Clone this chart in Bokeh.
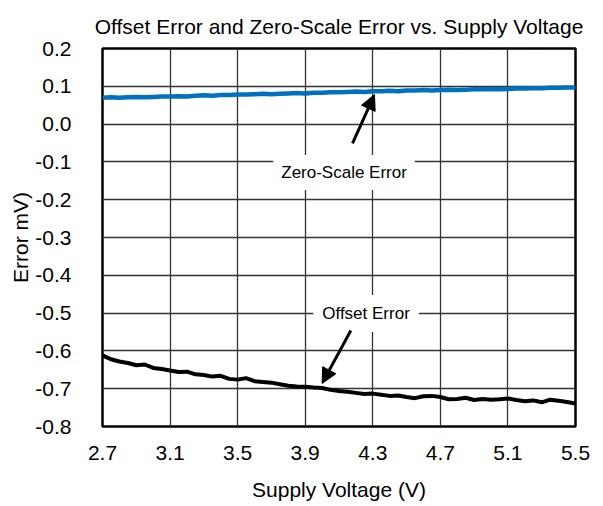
from bokeh.plotting import figure
from bokeh.models import Range1d, FixedTicker, Label, Arrow, NormalHead, Title
from bokeh.embed import file_html
from bokeh.resources import INLINE

# ---- data ----
voltage = [2.70, 2.75, 2.80, 2.85, 2.90, 2.95, 3.00, 3.05, 3.10, 3.15,
           3.20, 3.25, 3.30, 3.35, 3.40, 3.45, 3.50, 3.55, 3.60, 3.65,
           3.70, 3.75, 3.80, 3.85, 3.90, 3.95, 4.00, 4.05, 4.10, 4.15,
           4.20, 4.25, 4.30, 4.35, 4.40, 4.45, 4.50, 4.55, 4.60, 4.65,
           4.70, 4.75, 4.80, 4.85, 4.90, 4.95, 5.00, 5.05, 5.10, 5.15,
           5.20, 5.25, 5.30, 5.35, 5.40, 5.45, 5.50]
offset_error = [-0.612, -0.622, -0.628, -0.632, -0.638, -0.636, -0.645, -0.648, -0.652, -0.656,
                -0.655, -0.662, -0.664, -0.668, -0.666, -0.674, -0.676, -0.672, -0.680, -0.682,
                -0.684, -0.688, -0.692, -0.694, -0.695, -0.697, -0.698, -0.703, -0.706, -0.708,
                -0.711, -0.714, -0.713, -0.716, -0.719, -0.718, -0.722, -0.725, -0.720, -0.719,
                -0.722, -0.728, -0.727, -0.724, -0.730, -0.727, -0.729, -0.728, -0.726, -0.730,
                -0.733, -0.731, -0.736, -0.729, -0.732, -0.735, -0.739]
zero_scale_error = [0.070, 0.071, 0.070, 0.071, 0.072, 0.071, 0.072, 0.073, 0.073, 0.074,
                    0.073, 0.075, 0.076, 0.075, 0.077, 0.077, 0.078, 0.078, 0.079, 0.080,
                    0.079, 0.080, 0.081, 0.082, 0.081, 0.083, 0.083, 0.084, 0.084, 0.085,
                    0.086, 0.085, 0.087, 0.087, 0.088, 0.087, 0.089, 0.089, 0.090, 0.089,
                    0.090, 0.091, 0.090, 0.091, 0.092, 0.092, 0.093, 0.092, 0.093, 0.094,
                    0.094, 0.095, 0.095, 0.096, 0.096, 0.097, 0.097]
x_ticks = [2.7, 3.1, 3.5, 3.9, 4.3, 4.7, 5.1, 5.5]
y_ticks = [0.2, 0.1, 0.0, -0.1, -0.2, -0.3, -0.4, -0.5, -0.6, -0.7, -0.8]
title_text = "Offset Error and Zero-Scale Error vs. Supply Voltage"

FONT = "Liberation Sans"

p = figure(width=600, height=504, output_backend="svg", toolbar_location=None,
           x_range=Range1d(2.7, 5.5), y_range=Range1d(-0.8, 0.2),
           min_border_left=102, min_border_right=25, min_border_top=48, min_border_bottom=78)

p.title = Title(text=title_text, align="center", vertical_align="top",
                text_font=FONT, text_font_size="21px", text_font_style="normal",
                text_color="black", standoff=18)

p.outline_line_color = "black"
p.outline_line_width = 2.5

p.xaxis.ticker = FixedTicker(ticks=x_ticks)
p.yaxis.ticker = FixedTicker(ticks=y_ticks)
p.yaxis.major_label_overrides = {v: f"{v:.1f}" for v in y_ticks}
p.xaxis.major_label_overrides = {v: f"{v:.1f}" for v in x_ticks}

for ax in (p.xaxis[0], p.yaxis[0]):
    ax.axis_line_color = None
    ax.major_tick_line_color = None
    ax.minor_tick_line_color = None
    ax.major_label_text_font = FONT
    ax.major_label_text_font_size = "21px"
    ax.major_label_text_color = "black"
    ax.axis_label_text_font = FONT
    ax.axis_label_text_font_size = "21px"
    ax.axis_label_text_font_style = "normal"
    ax.axis_label_text_color = "black"

p.xaxis.axis_label = "Supply Voltage (V)"
p.yaxis.axis_label = "Error mV)"
p.xaxis.major_label_standoff = 13
p.yaxis.major_label_standoff = 25
p.xaxis.axis_label_standoff = 15
p.yaxis.axis_label_standoff = 0

p.xgrid.grid_line_color = "#333333"
p.ygrid.grid_line_color = "#333333"
p.xgrid.grid_line_width = 1.3
p.ygrid.grid_line_width = 1.3

p.line(voltage, zero_scale_error, line_color="#0070C0", line_width=4.5)
p.line(voltage, offset_error, line_color="black", line_width=4)

p.add_layout(Label(x=4.13, y=-0.128, text="Zero-Scale Error", text_align="center",
                   text_baseline="middle", text_font=FONT, text_font_size="17px",
                   text_color="black", background_fill_color="white", padding=8))
p.add_layout(Label(x=4.26, y=-0.501, text="Offset Error", text_align="center",
                   text_baseline="middle", text_font=FONT, text_font_size="17px",
                   text_color="black", background_fill_color="white", padding=9))

p.add_layout(Arrow(x_start=4.18, y_start=-0.051, x_end=4.31, y_end=0.078,
                   line_width=3, line_color="black",
                   end=NormalHead(size=15, fill_color="black", line_color="black")))
p.add_layout(Arrow(x_start=4.17, y_start=-0.546, x_end=4.00, y_end=-0.686,
                   line_width=3, line_color="black",
                   end=NormalHead(size=15, fill_color="black", line_color="black")))

open("out.html", "w").write(file_html(p, INLINE))
